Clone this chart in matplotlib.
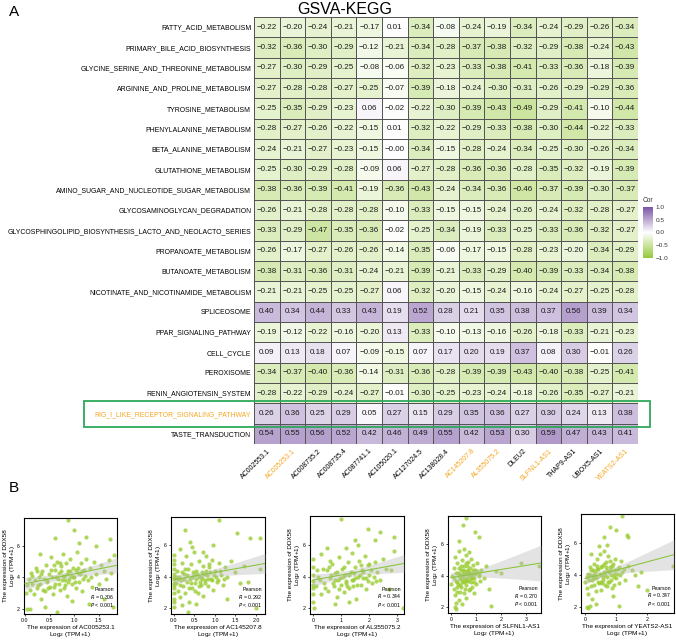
import numpy as np
import matplotlib
matplotlib.use('Agg')
import matplotlib.pyplot as plt
from matplotlib.colors import LinearSegmentedColormap
from matplotlib.patches import Rectangle

plt.rcParams['font.family'] = ['Liberation Sans', 'DejaVu Sans']

### Data : GSVA-KEGG correlation matrix

pathways = ['FATTY_ACID_METABOLISM', 'PRIMARY_BILE_ACID_BIOSYNTHESIS',
            'GLYCINE_SERINE_AND_THREONINE_METABOLISM', 'ARGININE_AND_PROLINE_METABOLISM',
            'TYROSINE_METABOLISM', 'PHENYLALANINE_METABOLISM', 'BETA_ALANINE_METABOLISM',
            'GLUTATHIONE_METABOLISM', 'AMINO_SUGAR_AND_NUCLEOTIDE_SUGAR_METABOLISM',
            'GLYCOSAMINOGLYCAN_DEGRADATION',
            'GLYCOSPHINGOLIPID_BIOSYNTHESIS_LACTO_AND_NEOLACTO_SERIES',
            'PROPANOATE_METABOLISM', 'BUTANOATE_METABOLISM',
            'NICOTINATE_AND_NICOTINAMIDE_METABOLISM', 'SPLICEOSOME',
            'PPAR_SIGNALING_PATHWAY', 'CELL_CYCLE', 'PEROXISOME',
            'RENIN_ANGIOTENSIN_SYSTEM', 'RIG_I_LIKE_RECEPTOR_SIGNALING_PATHWAY',
            'TASTE_TRANSDUCTION']

lncrnas = ['AC002553.1', 'AC005253.1', 'AC008735.2', 'AC008735.4', 'AC087741.1',
           'AC105020.1', 'AC127024.5', 'AC138028.4', 'AC145207.8', 'AL355075.2',
           'DLEU2', 'SLFNL1-AS1', 'THAP9-AS1', 'UBOX5-AS1', 'YEATS2-AS1']

highlight_cols = ['AC005253.1', 'AC145207.8', 'AL355075.2', 'SLFNL1-AS1', 'YEATS2-AS1']
highlight_row = 'RIG_I_LIKE_RECEPTOR_SIGNALING_PATHWAY'

cor = [
    [-0.22, -0.20, -0.24, -0.21, -0.17, 0.01, -0.34, -0.08, -0.24, -0.19, -0.34, -0.24, -0.29, -0.26, -0.34],
    [-0.32, -0.36, -0.30, -0.29, -0.12, -0.21, -0.34, -0.28, -0.37, -0.38, -0.32, -0.29, -0.38, -0.24, -0.43],
    [-0.27, -0.30, -0.29, -0.25, -0.08, -0.06, -0.32, -0.23, -0.33, -0.38, -0.41, -0.33, -0.36, -0.18, -0.39],
    [-0.27, -0.28, -0.28, -0.27, -0.25, -0.07, -0.39, -0.18, -0.24, -0.30, -0.31, -0.26, -0.29, -0.29, -0.36],
    [-0.25, -0.35, -0.29, -0.23, 0.06, -0.02, -0.22, -0.30, -0.39, -0.43, -0.49, -0.29, -0.41, -0.10, -0.44],
    [-0.28, -0.27, -0.26, -0.22, -0.15, 0.01, -0.32, -0.22, -0.29, -0.33, -0.38, -0.30, -0.44, -0.22, -0.33],
    [-0.24, -0.21, -0.27, -0.23, -0.15, -0.0, -0.34, -0.15, -0.28, -0.24, -0.34, -0.25, -0.30, -0.26, -0.34],
    [-0.25, -0.30, -0.29, -0.28, -0.09, 0.06, -0.27, -0.28, -0.36, -0.36, -0.28, -0.35, -0.32, -0.19, -0.39],
    [-0.38, -0.36, -0.39, -0.41, -0.19, -0.36, -0.43, -0.24, -0.34, -0.36, -0.46, -0.37, -0.39, -0.30, -0.37],
    [-0.26, -0.21, -0.28, -0.28, -0.28, -0.10, -0.33, -0.15, -0.15, -0.24, -0.26, -0.24, -0.32, -0.28, -0.27],
    [-0.33, -0.29, -0.47, -0.35, -0.36, -0.02, -0.25, -0.34, -0.19, -0.33, -0.25, -0.33, -0.36, -0.32, -0.27],
    [-0.26, -0.17, -0.27, -0.26, -0.26, -0.14, -0.35, -0.06, -0.17, -0.15, -0.28, -0.23, -0.20, -0.34, -0.29],
    [-0.38, -0.31, -0.36, -0.31, -0.24, -0.21, -0.39, -0.21, -0.33, -0.29, -0.40, -0.39, -0.33, -0.34, -0.38],
    [-0.21, -0.21, -0.25, -0.25, -0.27, 0.06, -0.32, -0.20, -0.15, -0.24, -0.16, -0.24, -0.27, -0.25, -0.28],
    [0.40, 0.34, 0.44, 0.33, 0.43, 0.19, 0.52, 0.28, 0.21, 0.35, 0.38, 0.37, 0.56, 0.39, 0.34],
    [-0.19, -0.12, -0.22, -0.16, -0.20, 0.13, -0.33, -0.10, -0.13, -0.16, -0.26, -0.18, -0.33, -0.21, -0.23],
    [0.09, 0.13, 0.18, 0.07, -0.09, -0.15, 0.07, 0.17, 0.20, 0.19, 0.37, 0.08, 0.30, -0.01, 0.26],
    [-0.34, -0.37, -0.40, -0.36, -0.14, -0.31, -0.36, -0.28, -0.39, -0.39, -0.43, -0.40, -0.38, -0.25, -0.41],
    [-0.28, -0.22, -0.29, -0.24, -0.27, -0.01, -0.30, -0.25, -0.23, -0.24, -0.18, -0.26, -0.35, -0.27, -0.21],
    [0.26, 0.36, 0.25, 0.29, 0.05, 0.27, 0.15, 0.29, 0.35, 0.36, 0.27, 0.30, 0.24, 0.13, 0.38],
    [0.54, 0.55, 0.56, 0.52, 0.42, 0.46, 0.49, 0.55, 0.42, 0.53, 0.30, 0.59, 0.47, 0.43, 0.41],
]

### Data : DDX58 scatter plots

x1 = [0.05, 0.08, 0.1, 0.12, 0.15, 0.18, 0.2, 0.22, 0.25, 0.28, 0.3, 0.32, 0.35, 0.38, 0.4, 0.42, 0.45, 0.48, 0.5, 0.52,
      0.55, 0.57, 0.6, 0.62, 0.65, 0.67, 0.7, 0.72, 0.74, 0.76, 0.78, 0.8, 0.82, 0.84, 0.86, 0.88, 0.9, 0.92, 0.95, 0.98,
      1.0, 1.03, 1.05, 1.08, 1.1, 1.13, 1.16, 1.2, 1.24, 1.28, 1.32, 1.36, 1.4, 1.45, 1.5, 1.55, 1.6, 1.65, 1.7, 1.75,
      0.14, 0.26, 0.33, 0.44, 0.53, 0.58, 0.63, 0.69, 0.73, 0.77, 0.81, 0.85, 0.91, 0.97, 1.02, 1.07, 1.12, 1.18, 1.22,
      1.35, 0.36, 0.47, 0.59, 0.71, 0.79, 0.87, 0.93, 1.04, 1.15, 0.24,
      0.88, 1.0, 1.25, 1.73, 0.6, 1.45, 1.1, 0.05, 0.1, 0.65, 1.8, 1.78, 0.4, 0.95, 0.3, 0.02, 1.6, 1.3]
y1 = [3.5, 3.9, 3.2, 4.3, 3.6, 2.9, 3.8, 4.6, 3.3, 4.0, 3.6, 2.6, 4.4, 3.9, 3.1, 4.8, 3.7, 4.2, 3.4, 5.3,
      4.0, 2.9, 4.5, 3.6, 5.0, 3.9, 4.3, 3.2, 4.7, 3.8, 5.5, 4.1, 3.5, 4.9, 2.8, 4.4, 3.9, 5.2, 3.6, 4.6,
      4.0, 3.3, 5.6, 4.3, 3.7, 4.9, 3.1, 4.5, 5.2, 3.8, 4.6, 3.4, 5.0, 4.2, 3.6, 4.8, 4.4, 3.9, 5.1, 4.3,
      4.1, 3.5, 4.2, 3.8, 4.5, 3.4, 4.0, 3.6, 4.4, 4.1, 3.8, 4.2, 4.4, 4.0, 3.7, 4.6, 4.2, 3.9, 4.1,
      4.0, 3.2, 3.3, 4.8, 4.9, 3.3, 3.7, 4.1, 4.5, 4.4, 4.4,
      7.7, 7.0, 6.6, 6.45, 6.55, 6.0, 6.2, 2.0, 1.95, 1.75, 5.4, 2.1, 2.1, 2.5, 5.5, 3.0, 2.6, 2.3]

x2 = [0, 0, 0, 0, 0, 0, 0, 0, 0, 0, 0, 0, 0, 0,
      0.05, 0.08, 0.1, 0.12, 0.15, 0.18, 0.2, 0.22, 0.25, 0.28, 0.3, 0.32, 0.35, 0.38, 0.4, 0.42, 0.45, 0.48, 0.5, 0.52,
      0.55, 0.58, 0.6, 0.62, 0.65, 0.68, 0.7, 0.72, 0.75, 0.78, 0.8, 0.83, 0.86, 0.9, 0.93, 0.96, 1.0, 1.05, 1.1, 1.15,
      1.2, 1.25, 1.3, 1.4, 1.5, 1.6, 1.7, 0.15, 0.45, 0.7,
      0.06, 0.14, 0.24, 0.33, 0.41, 0.47, 0.53, 0.57, 0.63, 0.67, 0.73, 0.77, 0.82, 0.88, 0.92, 0.98, 1.03, 1.08,
      0.27, 0.37, 0.44, 0.61, 0.69, 0.85, 0.11, 0.19, 0.51, 0.79, 1.12, 1.22,
      1.1, 0.28, 1.55, 1.85, 2.1, 0.95, 0.4, 2.0, 0.35, 1.8, 2.1, 0.2, 0.55, 1.3]
y2 = [2.1, 2.6, 3.0, 3.3, 3.6, 3.9, 4.2, 4.5, 4.8, 5.1, 5.4, 2.4, 3.5, 4.0,
      3.6, 4.4, 3.1, 4.0, 2.7, 3.8, 4.9, 3.4, 4.2, 3.0, 5.3, 3.7, 4.5, 2.4, 3.9, 4.8, 3.3, 4.1, 5.6, 3.6,
      4.4, 3.0, 4.0, 5.0, 3.5, 4.3, 2.8, 4.7, 3.8, 5.3, 4.1, 3.4, 4.6, 3.9, 5.1, 3.2, 4.4, 3.7, 4.9, 4.1,
      3.5, 4.6, 4.0, 5.0, 4.3, 3.6, 4.7, 5.8, 5.9, 5.6,
      4.0, 3.5, 3.9, 4.1, 3.6, 4.3, 3.9, 4.2, 3.7, 4.0, 4.2, 3.6, 3.9, 4.3, 3.8, 4.1, 4.0, 3.8,
      4.5, 3.3, 4.0, 3.4, 3.9, 4.8, 3.9, 4.3, 3.1, 4.4, 4.4, 3.9,
      7.6, 7.0, 6.8, 6.5, 6.45, 6.0, 6.2, 2.0, 1.75, 3.7, 4.5, 2.2, 2.3, 2.6]

x3 = [0, 0, 0, 0, 0, 0, 0, 0,
      0.1, 0.2, 0.3, 0.4, 0.5, 0.55, 0.6, 0.7, 0.75, 0.8, 0.85, 0.9, 0.95, 1.0, 1.05, 1.1, 1.15, 1.2, 1.25, 1.3,
      1.35, 1.4, 1.45, 1.5, 1.55, 1.6, 1.65, 1.7, 1.75, 1.8, 1.85, 1.9, 1.95, 2.0, 2.1, 2.2, 2.3, 2.4, 2.5, 2.6,
      2.7, 2.8, 2.9, 0.3, 0.6, 1.2, 1.6, 0.8, 1.3,
      0.25, 0.45, 0.65, 0.78, 0.88, 0.98, 1.08, 1.18, 1.28, 1.38, 1.48, 1.58, 1.68, 1.78, 1.88, 1.98, 2.08, 2.18,
      0.35, 0.58, 0.92, 1.12, 1.42, 1.72, 2.02, 0.15, 0.72, 1.22, 1.52, 2.25,
      1.0, 1.95, 2.4, 2.9, 1.5, 3.2, 0.05, 2.2, 0.5]
y3 = [2.4, 2.9, 3.3, 3.7, 4.1, 4.6, 5.1, 3.5,
      3.4, 4.0, 2.9, 3.6, 4.4, 3.1, 3.9, 4.8, 3.4, 4.2, 2.7, 3.8, 5.2, 3.5, 4.5, 3.0, 4.1, 3.7, 4.9, 3.3,
      4.3, 5.5, 3.8, 4.6, 2.6, 4.0, 5.0, 3.5, 4.4, 3.9, 5.3, 3.2, 4.7, 4.1, 3.6, 4.9, 4.3, 3.8, 5.1, 4.5,
      3.2, 4.4, 5.6, 5.4, 5.0, 5.8, 6.0, 2.3, 2.4,
      3.8, 3.3, 4.1, 3.8, 4.3, 3.9, 4.0, 3.6, 4.1, 3.8, 4.2, 3.5, 4.1, 4.3, 3.9, 3.7, 4.4, 4.0,
      4.5, 4.6, 3.2, 4.6, 3.4, 4.7, 4.8, 4.4, 3.6, 3.4, 3.9, 3.7,
      7.6, 7.0, 6.8, 6.5, 6.3, 2.0, 2.0, 6.3, 5.8]

x4 = [0.0, 0.05, 0.1, 0.12, 0.15, 0.18, 0.2, 0.22, 0.25, 0.28, 0.3, 0.32, 0.35, 0.38, 0.4, 0.42, 0.45, 0.48, 0.5, 0.52,
      0.55, 0.58, 0.6, 0.62, 0.65, 0.68, 0.7, 0.72, 0.75, 0.78, 0.8, 0.82, 0.85, 0.88, 0.9, 0.95, 1.0, 1.05, 1.1, 1.15,
      1.2, 0.3, 0.5, 0.7, 0.2, 0.45, 0.6, 0.9, 1.3, 1.4, 0.15, 0.35, 0.55, 0.65, 0.85,
      0.13, 0.23, 0.27, 0.33, 0.37, 0.43, 0.47, 0.53, 0.57, 0.63, 0.67, 0.73, 0.77, 0.83, 0.87, 0.93, 0.97,
      0.4, 0.5, 0.6, 0.7, 0.8, 0.25, 0.35, 0.45, 0.55, 0.65, 0.75, 1.02, 1.12,
      0.6, 0.48, 0.95, 1.1, 0.3, 2.8, 3.5, 1.6, 0.15, 0.2, 2.0, 1.5, 1.8]
y4 = [3.5, 4.0, 3.2, 4.5, 2.8, 3.7, 4.2, 3.0, 4.8, 3.5, 4.0, 2.5, 3.8, 4.4, 3.3, 5.0, 3.6, 4.1, 2.9, 4.6,
      3.9, 5.3, 3.4, 4.3, 3.7, 4.9, 3.1, 4.0, 4.5, 3.6, 5.1, 4.2, 3.3, 4.7, 3.9, 4.4, 3.5, 4.8, 4.1, 3.7,
      4.4, 5.6, 5.7, 5.5, 2.3, 2.2, 2.6, 2.9, 3.9, 4.6, 5.2, 3.0, 3.2, 4.1, 4.0,
      3.9, 3.6, 4.2, 4.5, 3.4, 3.8, 4.4, 3.6, 4.1, 3.8, 4.4, 3.7, 4.2, 3.9, 4.4, 3.6, 4.1,
      4.6, 4.3, 4.8, 4.2, 3.9, 3.3, 4.1, 4.0, 3.7, 4.6, 3.2, 4.3, 4.0,
      7.7, 7.2, 6.8, 6.5, 6.2, 4.8, 4.6, 2.1, 2.0, 1.9, 4.2, 3.2, 4.3]

x5 = [0.0, 0.05, 0.08, 0.1, 0.12, 0.15, 0.18, 0.2, 0.22, 0.25, 0.28, 0.3, 0.32, 0.35, 0.38, 0.4, 0.42, 0.45, 0.48, 0.5,
      0.52, 0.55, 0.58, 0.6, 0.62, 0.65, 0.68, 0.7, 0.72, 0.75, 0.78, 0.8, 0.83, 0.86, 0.9, 0.93, 0.96, 1.0, 1.05, 1.1,
      1.15, 1.2, 1.3, 1.4, 0.2, 0.45, 0.7, 0.9, 0.35, 0.15, 1.5, 1.7, 0.55, 0.85,
      0.07, 0.13, 0.23, 0.27, 0.33, 0.37, 0.43, 0.47, 0.53, 0.57, 0.63, 0.67, 0.73, 0.77, 0.83, 0.87, 0.93, 0.97,
      1.03, 1.08, 0.4, 0.5, 0.6, 0.7, 0.8, 0.3, 0.2, 1.25, 0.95, 1.12,
      1.2, 0.82, 1.0, 1.35, 1.4, 0.6, 2.85, 1.8, 1.1, 0.05, 0.1, 1.6, 2.0]
y5 = [3.6, 3.2, 4.1, 2.8, 3.7, 4.5, 3.3, 4.0, 2.5, 3.8, 4.7, 3.4, 4.2, 3.0, 5.0, 3.9, 4.4, 3.5, 5.3, 4.0,
      3.1, 4.6, 3.7, 5.5, 4.2, 3.4, 4.8, 3.9, 4.3, 5.2, 3.6, 4.5, 4.0, 3.2, 4.7, 4.1, 5.0, 3.8, 4.4, 3.5,
      4.9, 4.2, 3.7, 4.6, 5.3, 5.8, 5.9, 2.7, 2.2, 2.1, 4.3, 3.3, 3.5, 4.3,
      3.9, 4.0, 3.7, 4.3, 3.8, 4.4, 3.6, 4.1, 4.5, 3.9, 4.0, 4.5, 3.6, 4.2, 3.7, 4.6, 3.9, 4.3,
      4.1, 4.5, 4.6, 3.6, 4.7, 3.3, 4.9, 4.0, 4.3, 4.4, 3.4, 4.0,
      7.7, 7.0, 6.8, 6.5, 6.4, 6.4, 4.6, 4.2, 2.1, 2.0, 1.95, 4.0, 3.1]

scatter_x = [x1, x2, x3, x4, x5]
scatter_y = [y1, y2, y3, y4, y5]
scatter_genes = ['AC005253.1', 'AC145207.8', 'AL355075.2', 'SLFNL1-AS1', 'YEATS2-AS1']
pearson_r = ['0.306', '0.292', '0.344', '0.270', '0.347']
x_limits = [(-0.02, 1.87), (-0.07, 2.22), (-0.1, 3.25), (-0.12, 3.6), (-0.13, 2.87)]
x_ticks = [[0.0, 0.5, 1.0, 1.5], [0.0, 0.5, 1.0, 1.5, 2.0], [0, 1, 2, 3], [0, 1, 2, 3], [0, 1, 2]]
x_ticklabels = [['0.0', '0.5', '1.0', '1.5'], ['0.0', '0.5', '1.0', '1.5', '2.0'],
                ['0', '1', '2', '3'], ['0', '1', '2', '3'], ['0', '1', '2']]

orange = '#F5A623'
point_green = '#9ACD32'


def minus(s):
    return s.replace('-', '\u2212')


fig = plt.figure(figsize=(6.76, 6.4), dpi=100)
W, H = 676.0, 640.0


def px_axes(left, top, right, bottom):
    # axes from pixel box
    return fig.add_axes([left / W, 1 - bottom / H, (right - left) / W, (bottom - top) / H])


### Panel A : heatmap

cmap = LinearSegmentedColormap.from_list('gwp', ['#96C93A', '#FFFFFF', '#7B55A6'])
data = np.array(cor)
nr, nc = data.shape

ax = px_axes(254, 17, 638, 444)
mesh = ax.pcolormesh(data, cmap=cmap, vmin=-1, vmax=1, edgecolors='#555555', linewidth=0.5)
ax.set_xlim(0, nc)
ax.set_ylim(nr, 0)
for i in range(nr):
    for j in range(nc):
        ax.text(j + 0.5, i + 0.5, minus('{:.2f}'.format(data[i, j])),
                ha='center', va='center', fontsize=5.8, color='#1a1a1a')

ax.set_yticks(np.arange(nr) + 0.5)
ax.set_yticklabels(pathways, fontsize=4.95)
ax.set_xticks(np.arange(nc) + 0.5)
ax.set_xticklabels(lncrnas, fontsize=5.0, rotation=45, ha='right', va='top', rotation_mode='anchor')
ax.tick_params(axis='y', length=0, pad=2)
ax.tick_params(axis='x', length=0, pad=2.5)
for lab in ax.get_yticklabels():
    if lab.get_text() == highlight_row:
        lab.set_color(orange)
for lab in ax.get_xticklabels():
    if lab.get_text() in highlight_cols:
        lab.set_color(orange)
for s in ax.spines.values():
    s.set_visible(False)

# green box around the RIG-I row
fig.patches.append(Rectangle((84 / W, 1 - 427 / H), (650 - 84) / W, 26 / H, transform=fig.transFigure,
                             fill=False, edgecolor='#2DA85A', linewidth=1.3))

# colorbar
cax = px_axes(643, 207, 653, 258)
cb = fig.colorbar(mesh, cax=cax, ticks=[-1, -0.5, 0, 0.5, 1])
cb.outline.set_visible(False)
cb.ax.set_yticklabels([minus(t) for t in ['-1.0', '-0.5', '0.0', '0.5', '1.0']], fontsize=4.6, color='#333333')
cb.ax.tick_params(length=0, pad=2)
fig.text(643 / W, 1 - 201 / H, 'Cor', fontsize=4.8, ha='left', va='center', color='#333333')

fig.text(345 / W, 1 - 9 / H, 'GSVA-KEGG', fontsize=11.5, ha='center', va='center')
fig.text(9 / W, 1 - 12 / H, 'A', fontsize=11, ha='left', va='center')
fig.text(9 / W, 1 - 488 / H, 'B', fontsize=11, ha='left', va='center')

### Panel B : scatter plots

boxes = [(24, 518, 117, 614), (171, 517, 265, 614), (310, 516, 404, 614), (448, 516, 541, 613), (581, 514, 674, 613)]

for k in range(5):
    sx = np.array(scatter_x[k], dtype=float)
    sy = np.array(scatter_y[k], dtype=float)
    a = px_axes(*boxes[k])
    a.scatter(sx, sy, s=9, color=point_green, alpha=0.8, linewidths=0, zorder=2)

    # linear fit + 95% confidence band
    b1, b0 = np.polyfit(sx, sy, 1)
    n = len(sx)
    resid = sy - (b0 + b1 * sx)
    se = np.sqrt(np.sum(resid ** 2) / (n - 2))
    xs = np.linspace(0, x_limits[k][1], 100)
    band = 1.96 * se * np.sqrt(1.0 / n + (xs - sx.mean()) ** 2 / np.sum((sx - sx.mean()) ** 2))
    a.fill_between(xs, b0 + b1 * xs - band, b0 + b1 * xs + band, color='#BBBBBB', alpha=0.4, linewidth=0, zorder=3)
    a.plot(xs, b0 + b1 * xs, color='#8CC63F', linewidth=0.8, zorder=4)

    a.set_xlim(*x_limits[k])
    a.set_ylim(1.65, 7.8)
    a.set_xticks(x_ticks[k])
    a.set_xticklabels(x_ticklabels[k])
    a.set_yticks([2, 4, 6])
    a.tick_params(labelsize=3.8, length=1.5, width=0.5, pad=1.5)
    for s in a.spines.values():
        s.set_linewidth(0.8)
    a.set_xlabel('The expression of ' + scatter_genes[k] + '\nLog$_2$ (TPM+1)', fontsize=4.6, labelpad=1.5,
                 linespacing=1.0)
    a.set_ylabel('The expression of DDX58\nLog$_2$ (TPM+1)', fontsize=4.6, labelpad=1 if k else 0.3,
                 linespacing=1.0)
    a.text(0.97, 0.05, 'Pearson\n$R$ = ' + pearson_r[k] + '\n$P$ < 0.001', transform=a.transAxes,
           ha='right', va='bottom', fontsize=3.8, linespacing=1.1)

fig.savefig('out.png', dpi=100)
